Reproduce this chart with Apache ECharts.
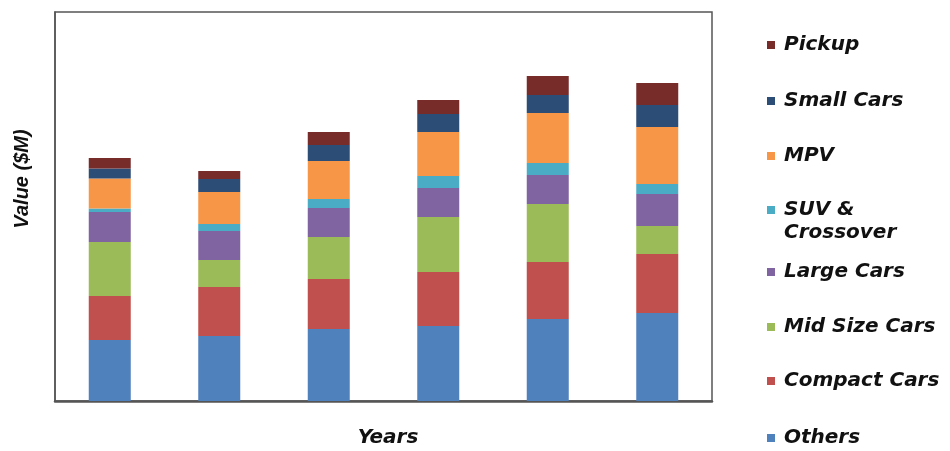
<!DOCTYPE html>
<html>
<head>
<meta charset="utf-8">
<script src="https://cdn.jsdelivr.net/npm/echarts@6/dist/echarts.min.js"></script>
<style>html,body{margin:0;padding:0;background:#fff}#c{width:950px;height:451px}</style>
</head>
<body>
<div id="c"></div>
<script>
// Data (arbitrary $M units)
const categories = ['Year 1', 'Year 2', 'Year 3', 'Year 4', 'Year 5', 'Year 6'];
const seriesNames = ['Others', 'Compact Cars', 'Mid Size Cars', 'Large Cars', 'SUV & Crossover', 'MPV', 'Small Cars', 'Pickup'];
const others   = [61, 65, 72, 75, 82, 88];
const compact  = [44, 49, 50, 54, 57, 59];
const midSize  = [54, 27, 42, 55, 58, 28];
const large    = [30, 29, 29, 29, 29, 32];
const suv      = [3.5, 7, 9, 12, 12, 10];
const mpv      = [30, 32, 38, 44, 50, 57];
const small    = [10, 13, 16, 18, 18, 22];
const pickup   = [10.5, 8, 13, 14, 19, 22];
const yTitle = 'Value ($M)';
const xTitle = 'Years';

const values = [others, compact, midSize, large, suv, mpv, small, pickup];
const colors = ['#4F81BD', '#C0504D', '#9BBB59', '#8064A2', '#4BACC6', '#F79646', '#2C4D75', '#772C2A'];

const font = 'DejaVu Sans';
const legendCenters = {
  'Pickup': 45, 'Small Cars': 101, 'MPV': 156, 'SUV & Crossover': 210,
  'Large Cars': 272, 'Mid Size Cars': 327, 'Compact Cars': 381, 'Others': 438
};

const legends = seriesNames.slice().reverse().map(function (n) {
  const multi = n === 'SUV & Crossover';
  return {
    data: [n],
    orient: 'vertical',
    left: 767,
    top: multi ? legendCenters[n] - 34.5 : legendCenters[n] - 11,
    padding: 0,
    itemWidth: 8,
    itemHeight: 8,
    icon: 'rect',
    selectedMode: false,
    formatter: multi ? function () { return ' \nSUV &\nCrossover'; } : '{name}',
    textStyle: {
      fontFamily: font, fontStyle: 'italic', fontWeight: 'bold', fontSize: 20,
      color: '#111', padding: [0, 0, 0, 4], lineHeight: multi ? 23 : 22
    }
  };
});

const chart = echarts.init(document.getElementById('c'), null, { renderer: 'canvas' });
chart.setOption({
  animation: false,
  backgroundColor: '#fff',
  color: colors,
  grid: { left: 55, top: 12, right: 238, bottom: 50, show: true, borderColor: '#555', borderWidth: 1.5, backgroundColor: 'transparent' },
  legend: legends,
  xAxis: {
    type: 'category', data: categories,
    axisLine: { show: true, lineStyle: { color: '#555', width: 2.5 } },
    axisTick: { show: false }, axisLabel: { show: false }
  },
  yAxis: {
    type: 'value', min: 0, max: 389,
    axisLine: { show: true, lineStyle: { color: '#555', width: 1.5 } },
    axisTick: { show: false }, axisLabel: { show: false }, splitLine: { show: false }
  },
  graphic: [
    { type: 'text', x: 22, y: 179, rotation: Math.PI / 2,
      style: { text: yTitle, fontFamily: 'Liberation Sans', fontStyle: 'italic', fontWeight: 'bold', fontSize: 20, fill: '#111', align: 'center', verticalAlign: 'middle' } },
    { type: 'text', x: 388, y: 438,
      style: { text: xTitle, fontFamily: font, fontStyle: 'italic', fontWeight: 'bold', fontSize: 20, fill: '#111', align: 'center', verticalAlign: 'middle' } }
  ],
  series: seriesNames.map(function (n, i) {
    return { name: n, type: 'bar', stack: 'total', barWidth: 42, data: values[i], itemStyle: { color: colors[i] } };
  })
});
</script>
</body>
</html>
